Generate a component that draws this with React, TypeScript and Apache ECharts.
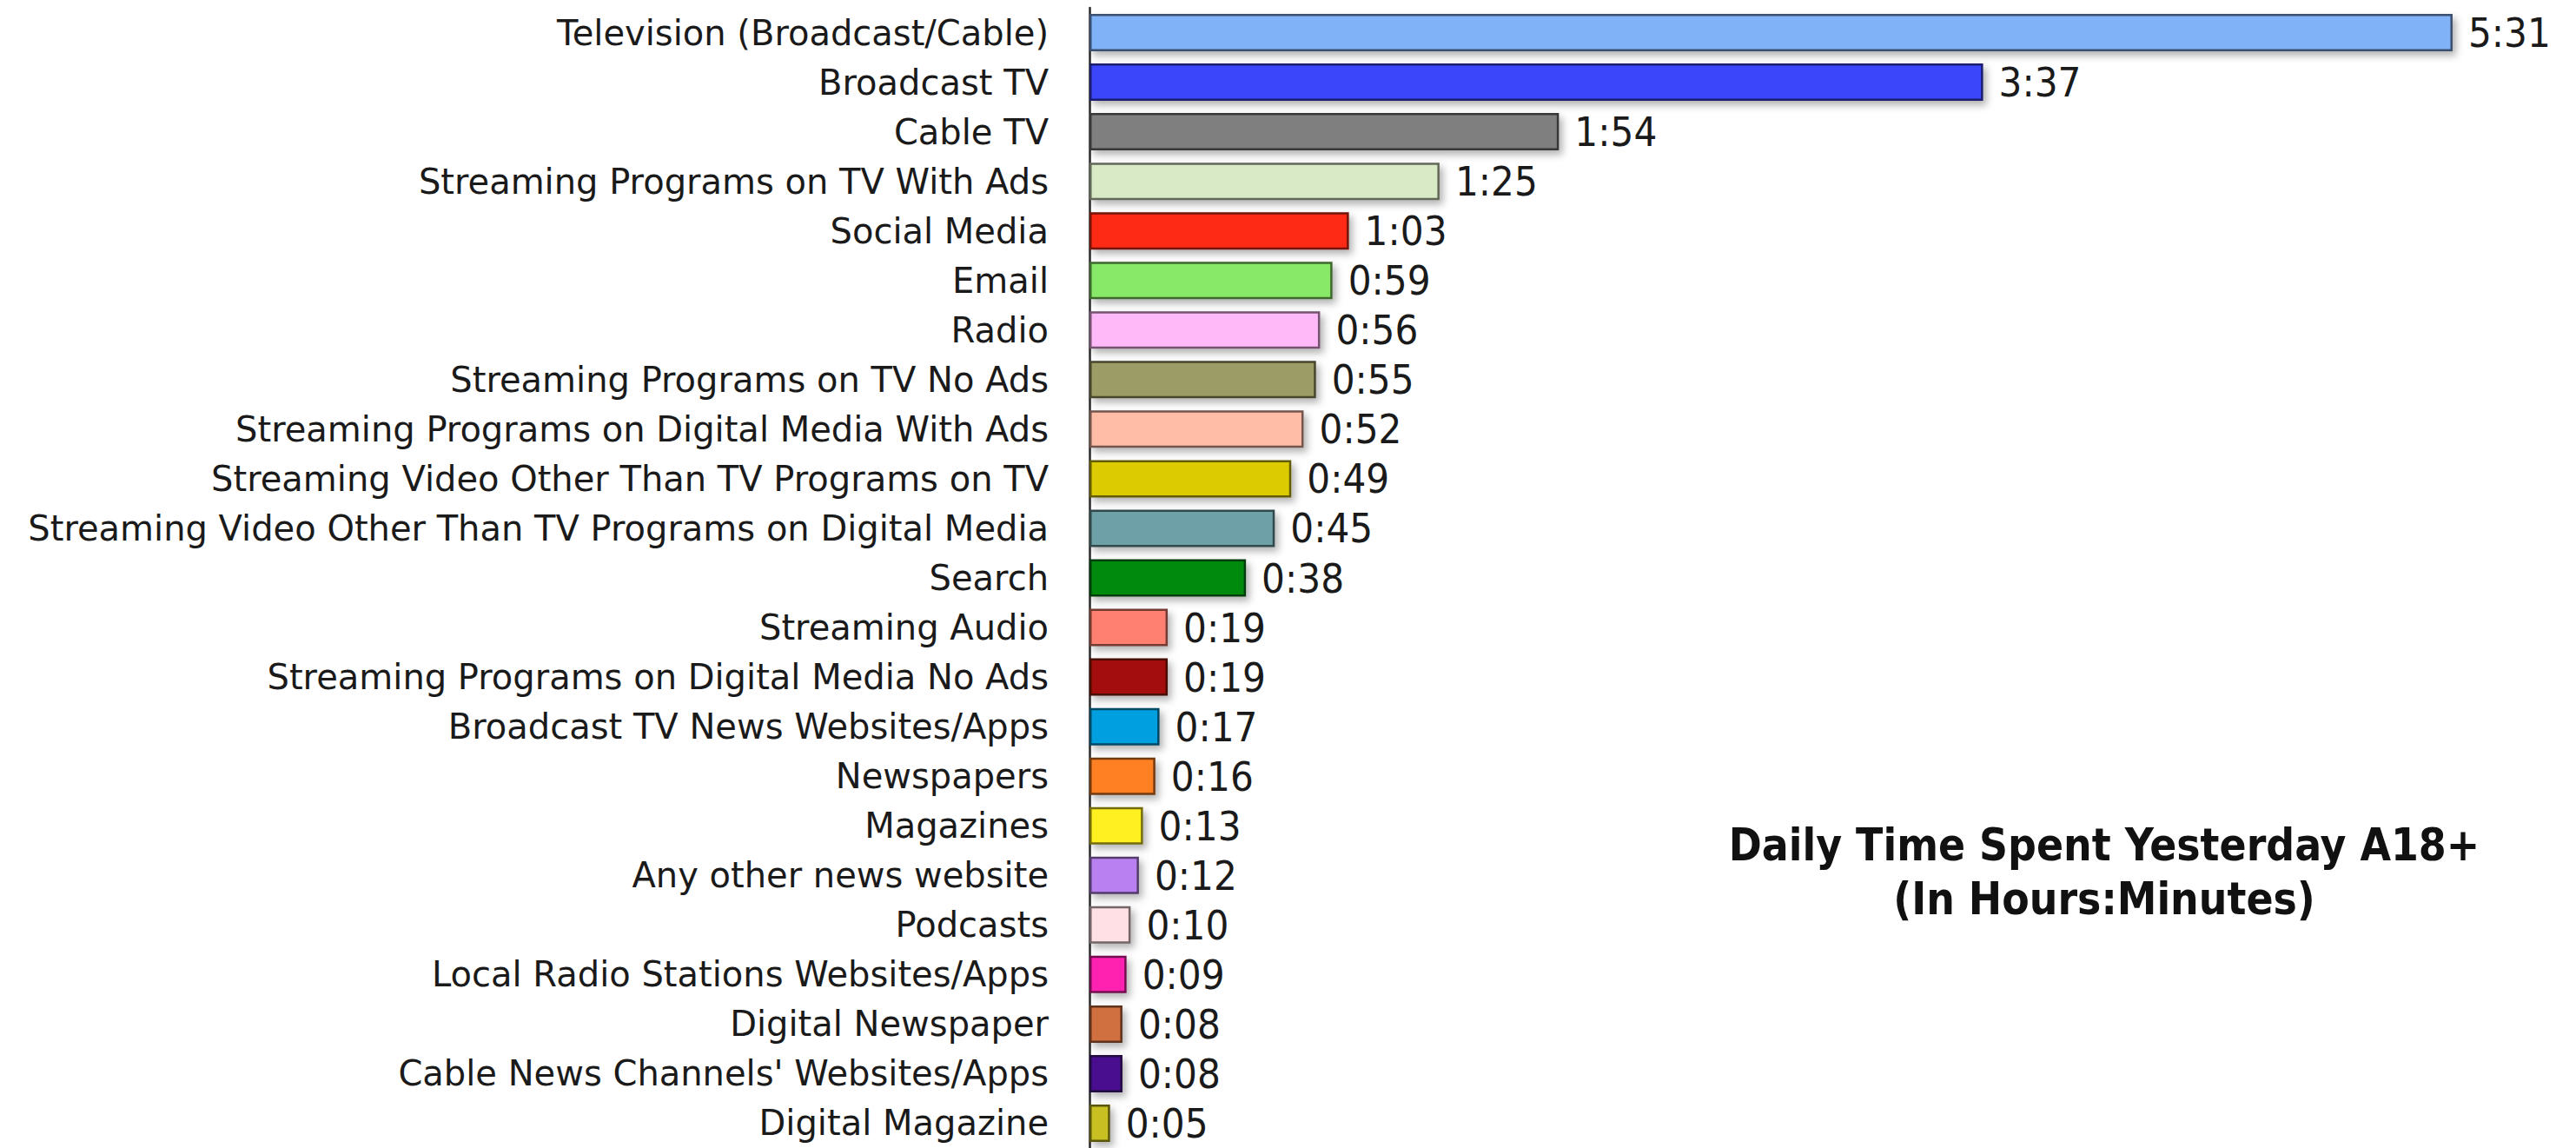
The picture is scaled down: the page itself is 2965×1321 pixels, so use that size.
import React, { useEffect, useRef } from "react";
import * as echarts from "echarts";

const categories = [
  "Television (Broadcast/Cable)",
  "Broadcast TV",
  "Cable TV",
  "Streaming Programs on TV With Ads",
  "Social Media",
  "Email",
  "Radio",
  "Streaming Programs on TV No Ads",
  "Streaming Programs on Digital Media With Ads",
  "Streaming Video Other Than TV Programs on TV",
  "Streaming Video Other Than TV Programs on Digital Media",
  "Search",
  "Streaming Audio",
  "Streaming Programs on Digital Media No Ads",
  "Broadcast TV News Websites/Apps",
  "Newspapers",
  "Magazines",
  "Any other news website",
  "Podcasts",
  "Local Radio Stations Websites/Apps",
  "Digital Newspaper",
  "Cable News Channels' Websites/Apps",
  "Digital Magazine",
];

// minutes per day
const minutes = [331, 217, 114, 85, 63, 59, 56, 55, 52, 49, 45, 38, 19, 19, 17, 16, 13, 12, 10, 9, 8, 8, 5];

const barColors = [
  "#80b2f8", "#3b44fa", "#7f7f7f", "#d9eac6", "#ff2a12", "#88e868", "#ffb9f8", "#9c9c66",
  "#ffbda8", "#dccb00", "#6ea1a7", "#008a10", "#ff8070", "#a31008", "#00a0e0", "#ff8020",
  "#fff020", "#b880f0", "#ffe0e4", "#ff20b0", "#d07040", "#4a1090", "#c8c020",
];

const titleLines = ["Daily Time Spent Yesterday A18+", "(In Hours:Minutes)"];

const FONT_COND = "'DejaVu Sans Condensed', 'DejaVu Sans', sans-serif";
const FONT = "'DejaVu Sans', sans-serif";

function darken(hex: string, f: number): string {
  const n = parseInt(hex.slice(1), 16);
  const r = Math.round(((n >> 16) & 255) * f);
  const g = Math.round(((n >> 8) & 255) * f);
  const b = Math.round((n & 255) * f);
  return `rgb(${r},${g},${b})`;
}

function fmt(m: number): string {
  const h = Math.floor(m / 60);
  const mm = m % 60;
  return `${h}:${mm < 10 ? "0" + mm : mm}`;
}

export default function App() {
  const ref = useRef<HTMLDivElement>(null);
  useEffect(() => {
    if (!ref.current) return;
    const chart = echarts.init(ref.current, undefined, { renderer: "svg" });
    chart.setOption({
      animation: false,
      backgroundColor: "#ffffff",
      grid: { left: 1254, right: 52, top: 9, bottom: -6, containLabel: false },
      xAxis: {
        type: "value",
        min: 0,
        max: 350,
        show: false,
        splitLine: { show: false },
      },
      yAxis: {
        type: "category",
        data: categories,
        inverse: true,
        axisLine: { show: true, lineStyle: { color: "#2a2a2a", width: 2.5 } },
        axisTick: { show: false },
        axisLabel: {
          margin: 47,
          color: "#1a1a1a",
          fontSize: 40,
          fontFamily: FONT,
        },
        splitLine: { show: false },
      },
      series: [
        {
          type: "bar",
          barWidth: 43,
          data: minutes.map((v, i) => ({
            value: v,
            itemStyle: {
              color: barColors[i],
              borderColor: darken(barColors[i], 0.45),
              borderWidth: 2.5,
              shadowColor: "rgba(0,0,0,0.3)",
              shadowBlur: 8,
              shadowOffsetX: 4,
              shadowOffsetY: 5,
            },
          })),
          label: {
            show: true,
            position: "right",
            distance: 18,
            color: "#1a1a1a",
            fontSize: 47,
            fontFamily: FONT_COND,
            formatter: (p: any) => fmt(p.value),
          },
        },
      ],
      graphic: [
        {
          type: "text",
          x: 2422,
          y: 972,
          style: {
            text: titleLines[0],
            fontSize: 51,
            fontWeight: "bold",
            fontFamily: FONT_COND,
            fill: "#111",
            align: "center",
            verticalAlign: "middle",
          },
        },
        {
          type: "text",
          x: 2422,
          y: 1034,
          style: {
            text: titleLines[1],
            fontSize: 51,
            fontWeight: "bold",
            fontFamily: FONT_COND,
            fill: "#111",
            align: "center",
            verticalAlign: "middle",
          },
        },
      ],
    });
    return () => chart.dispose();
  }, []);
  return (
    <div
      ref={ref}
      style={{ position: "fixed", left: 0, top: 0, width: "2965px", height: "1321px", background: "#fff" }}
    />
  );
}
